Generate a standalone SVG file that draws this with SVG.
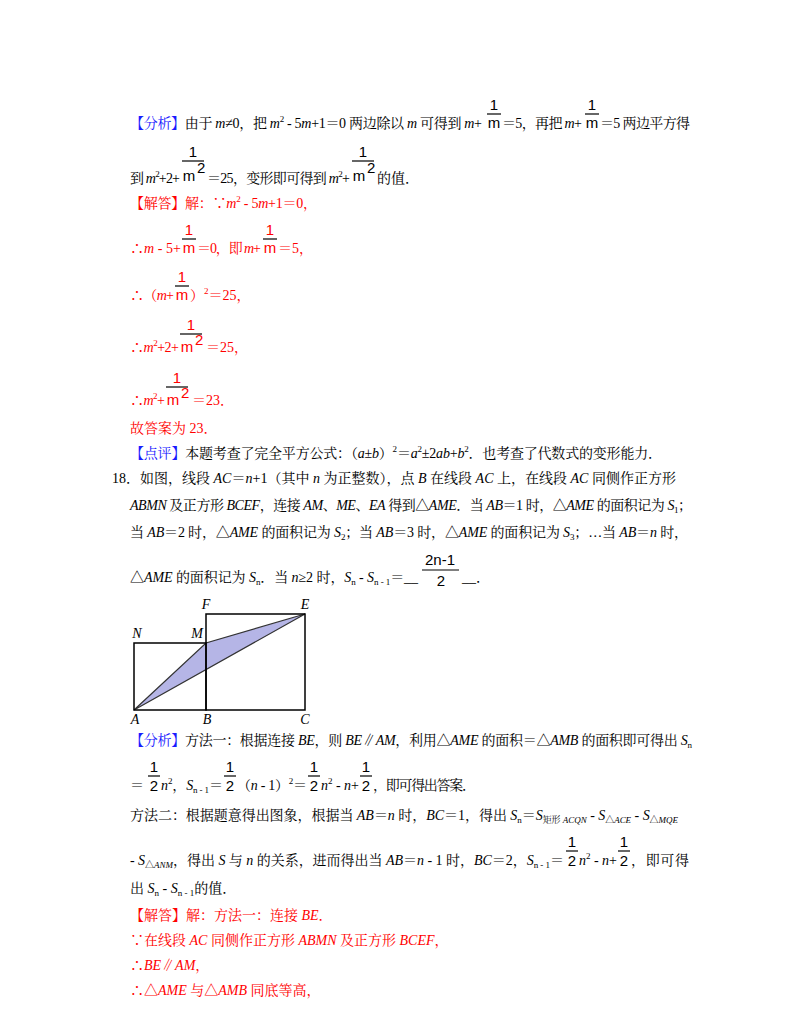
<svg xmlns="http://www.w3.org/2000/svg" width="800" height="1035" viewBox="0 0 800 1035">
<style>
text{font-family:"Liberation Serif","Noto Serif CJK SC","Noto Sans CJK SC",serif;font-size:14px;fill:#000}
.r{fill:#f00}.b{fill:#1a1aff}
.i{font-style:italic}
.f{font-family:"Liberation Sans","Noto Sans CJK SC",sans-serif;font-size:15px}
.fr{font-family:"Liberation Sans",sans-serif;font-size:15px;fill:#f00}
.s{font-size:9px}
.bar{stroke:#000;stroke-width:1.2}
.lbl{font-family:"Liberation Serif",serif;font-style:italic;font-size:14px}
</style>
<rect width="800" height="1035" fill="#fff"/>

<text x="130" y="128" textLength="352" lengthAdjust="spacing"><tspan class="b">【分析】</tspan>由于 <tspan class="i">m</tspan>≠0，把 <tspan class="i">m</tspan><tspan class="s" dy="-6">2</tspan><tspan dy="6"> - 5</tspan><tspan class="i">m</tspan>+1＝0 两边除以 <tspan class="i">m</tspan> 可得到 <tspan class="i">m</tspan>+</text>
<text class="f" x="494" y="110" text-anchor="middle">1</text>
<line class="bar" x1="487" y1="114" x2="501" y2="114"/>
<text class="f" x="494" y="128" text-anchor="middle">m</text>
<text x="502" y="128" textLength="80" lengthAdjust="spacing">＝5，再把 <tspan class="i">m</tspan>+</text>
<text class="f" x="592" y="110" text-anchor="middle">1</text>
<line class="bar" x1="585" y1="114" x2="599" y2="114"/>
<text class="f" x="592" y="128" text-anchor="middle">m</text>
<text x="600" y="128" textLength="90" lengthAdjust="spacing">＝5 两边平方得</text>

<text x="130" y="183" textLength="50" lengthAdjust="spacing">到 <tspan class="i">m</tspan><tspan class="s" dy="-6">2</tspan><tspan dy="6">+2+</tspan></text>
<text class="f" x="193" y="157" text-anchor="middle">1</text>
<line class="bar" x1="182" y1="161" x2="204" y2="161"/>
<text class="f" x="189" y="181" text-anchor="middle">m</text>
<text class="f" x="197" y="173" font-size="12">2</text>
<text x="207" y="183" textLength="143" lengthAdjust="spacing">＝25，变形即可得到 <tspan class="i">m</tspan><tspan class="s" dy="-6">2</tspan><tspan dy="6">+</tspan></text>
<text class="f" x="363" y="157" text-anchor="middle">1</text>
<line class="bar" x1="352" y1="161" x2="374" y2="161"/>
<text class="f" x="359" y="181" text-anchor="middle">m</text>
<text class="f" x="367" y="173" font-size="12">2</text>
<text x="377" y="183">的值．</text>

<text class="r" x="130" y="208" textLength="187" lengthAdjust="spacing">【解答】解：∵<tspan class="i">m</tspan><tspan class="s" dy="-6">2</tspan><tspan dy="6"> - 5</tspan><tspan class="i">m</tspan>+1＝0，</text>

<text class="r" x="130" y="253" textLength="51" lengthAdjust="spacing">∴<tspan class="i">m</tspan> - 5+</text>
<text class="fr" x="189" y="235" text-anchor="middle">1</text>
<line class="bar" x1="182" y1="239" x2="196" y2="239"/>
<text class="fr" x="189" y="253" text-anchor="middle">m</text>
<text class="r" x="197" y="253" textLength="64" lengthAdjust="spacing">＝0，即 <tspan class="i">m</tspan>+</text>
<text class="fr" x="270" y="235" text-anchor="middle">1</text>
<line class="bar" x1="263" y1="239" x2="277" y2="239"/>
<text class="fr" x="270" y="253" text-anchor="middle">m</text>
<text class="r" x="278" y="253">＝5，</text>

<text class="r" x="130" y="300" textLength="44" lengthAdjust="spacing">∴（<tspan class="i">m</tspan>+</text>
<text class="fr" x="182" y="282" text-anchor="middle">1</text>
<line class="bar" x1="175" y1="286" x2="189" y2="286"/>
<text class="fr" x="182" y="300" text-anchor="middle">m</text>
<text class="r" x="190" y="300">）<tspan class="s" dy="-6">2</tspan><tspan dy="6">＝25，</tspan></text>

<text class="r" x="130" y="352" textLength="49" lengthAdjust="spacing">∴<tspan class="i">m</tspan><tspan class="s" dy="-6">2</tspan><tspan dy="6">+2+</tspan></text>
<text class="fr" x="191" y="330" text-anchor="middle">1</text>
<line class="bar" x1="180" y1="334" x2="202" y2="334"/>
<text class="fr" x="187" y="352" text-anchor="middle">m</text>
<text class="fr" x="195" y="345" font-size="12">2</text>
<text class="r" x="206" y="352">＝25，</text>

<text class="r" x="130" y="405" textLength="35" lengthAdjust="spacing">∴<tspan class="i">m</tspan><tspan class="s" dy="-6">2</tspan><tspan dy="6">+</tspan></text>
<text class="fr" x="177" y="383" text-anchor="middle">1</text>
<line class="bar" x1="166" y1="387" x2="188" y2="387"/>
<text class="fr" x="173" y="405" text-anchor="middle">m</text>
<text class="fr" x="181" y="398" font-size="12">2</text>
<text class="r" x="192" y="405">＝23．</text>

<text class="r" x="130" y="433">故答案为 23．</text>

<text x="130" y="458" textLength="532" lengthAdjust="spacing"><tspan class="b">【点评】</tspan>本题考查了完全平方公式：（<tspan class="i">a</tspan>±<tspan class="i">b</tspan>）<tspan class="s" dy="-6">2</tspan><tspan dy="6">＝</tspan><tspan class="i">a</tspan><tspan class="s" dy="-6">2</tspan><tspan dy="6">±2</tspan><tspan class="i">ab</tspan>+<tspan class="i">b</tspan><tspan class="s" dy="-6">2</tspan><tspan dy="6">．也考查了代数式的变形能力．</tspan></text>

<text x="112" y="483" textLength="564" lengthAdjust="spacing">18．如图，线段 <tspan class="i">AC</tspan>＝<tspan class="i">n</tspan>+1（其中 <tspan class="i">n</tspan> 为正整数），点 <tspan class="i">B</tspan> 在线段 <tspan class="i">AC</tspan> 上，在线段 <tspan class="i">AC</tspan> 同侧作正方形</text>
<text x="130" y="510" textLength="562" lengthAdjust="spacing"><tspan class="i">ABMN</tspan> 及正方形 <tspan class="i">BCEF</tspan>，连接 <tspan class="i">AM</tspan>、<tspan class="i">ME</tspan>、<tspan class="i">EA</tspan> 得到△<tspan class="i">AME</tspan>．当 <tspan class="i">AB</tspan>＝1 时，△<tspan class="i">AME</tspan> 的面积记为 <tspan class="i">S</tspan><tspan class="s" dy="3">1</tspan><tspan dy="-3">；</tspan></text>
<text x="130" y="537" textLength="558" lengthAdjust="spacing">当 <tspan class="i">AB</tspan>＝2 时，△<tspan class="i">AME</tspan> 的面积记为 <tspan class="i">S</tspan><tspan class="s" dy="3">2</tspan><tspan dy="-3">；当 </tspan><tspan class="i">AB</tspan>＝3 时，△<tspan class="i">AME</tspan> 的面积记为 <tspan class="i">S</tspan><tspan class="s" dy="3">3</tspan><tspan dy="-3">；…当 </tspan><tspan class="i">AB</tspan>＝<tspan class="i">n</tspan> 时，</text>
<text x="130" y="582" textLength="288" lengthAdjust="spacing">△<tspan class="i">AME</tspan> 的面积记为 <tspan class="i">S</tspan><tspan class="s" dy="3">n</tspan><tspan dy="-3">．当 </tspan><tspan class="i">n</tspan>≥2 时，<tspan class="i">S</tspan><tspan class="s" dy="3">n</tspan><tspan dy="-3"> - </tspan><tspan class="i">S</tspan><tspan class="s" dy="3">n - 1</tspan><tspan dy="-3">＝__</tspan></text>
<text class="f" x="440" y="565" text-anchor="middle">2n-1</text>
<line class="bar" x1="422" y1="570" x2="459" y2="570"/>
<text class="f" x="441" y="586" text-anchor="middle">2</text>
<text x="462" y="582">__．</text>

<g id="figure">
<polygon points="134,710 206,643 305,614" fill="#b5b5e6" stroke="#333" stroke-width="1.2"/>
<rect x="134" y="643" width="72" height="67" fill="none" stroke="#000" stroke-width="1.5"/>
<rect x="206" y="614" width="99" height="96" fill="none" stroke="#000" stroke-width="1.5"/>
<text class="lbl" x="206" y="609" text-anchor="middle">F</text>
<text class="lbl" x="305" y="609" text-anchor="middle">E</text>
<text class="lbl" x="137" y="638" text-anchor="middle">N</text>
<text class="lbl" x="197" y="638" text-anchor="middle">M</text>
<text class="lbl" x="135" y="724" text-anchor="middle">A</text>
<text class="lbl" x="207" y="724" text-anchor="middle">B</text>
<text class="lbl" x="305" y="724" text-anchor="middle">C</text>
</g>

<text x="130" y="745" textLength="562" lengthAdjust="spacing"><tspan class="b">【分析】</tspan>方法一：根据连接 <tspan class="i">BE</tspan>，则 <tspan class="i">BE</tspan>∥<tspan class="i">AM</tspan>，利用△<tspan class="i">AME</tspan> 的面积＝△<tspan class="i">AMB</tspan> 的面积即可得出 <tspan class="i">S</tspan><tspan class="s" dy="3">n</tspan></text>

<text x="130" y="790">＝</text>
<text class="f" x="154" y="772" text-anchor="middle">1</text>
<line class="bar" x1="148" y1="776" x2="160" y2="776"/>
<text class="f" x="154" y="791" text-anchor="middle">2</text>
<text x="161" y="790" textLength="62" lengthAdjust="spacing"><tspan class="i">n</tspan><tspan class="s" dy="-6">2</tspan><tspan dy="6">，</tspan><tspan class="i">S</tspan><tspan class="s" dy="3">n - 1</tspan><tspan dy="-3">＝</tspan></text>
<text class="f" x="230" y="772" text-anchor="middle">1</text>
<line class="bar" x1="224" y1="776" x2="236" y2="776"/>
<text class="f" x="230" y="791" text-anchor="middle">2</text>
<text x="237" y="790" textLength="70" lengthAdjust="spacing">（<tspan class="i">n</tspan> - 1）<tspan class="s" dy="-6">2</tspan><tspan dy="6">＝</tspan></text>
<text class="f" x="314" y="772" text-anchor="middle">1</text>
<line class="bar" x1="308" y1="776" x2="320" y2="776"/>
<text class="f" x="314" y="791" text-anchor="middle">2</text>
<text x="321" y="790" textLength="38" lengthAdjust="spacing"><tspan class="i">n</tspan><tspan class="s" dy="-6">2</tspan><tspan dy="6"> - </tspan><tspan class="i">n</tspan>+</text>
<text class="f" x="366" y="772" text-anchor="middle">1</text>
<line class="bar" x1="360" y1="776" x2="372" y2="776"/>
<text class="f" x="366" y="791" text-anchor="middle">2</text>
<text x="373" y="790" textLength="103" lengthAdjust="spacing">，即可得出答案．</text>

<text x="130" y="820" textLength="548" lengthAdjust="spacing">方法二：根据题意得出图象，根据当 <tspan class="i">AB</tspan>＝<tspan class="i">n</tspan> 时，<tspan class="i">BC</tspan>＝1，得出 <tspan class="i">S</tspan><tspan class="s" dy="3">n</tspan><tspan dy="-3">＝</tspan><tspan class="i">S</tspan><tspan class="s" dy="3">矩形 <tspan class="i">ACQN</tspan></tspan><tspan dy="-3"> - </tspan><tspan class="i">S</tspan><tspan class="s" dy="3">△<tspan class="i">ACE</tspan></tspan><tspan dy="-3"> - </tspan><tspan class="i">S</tspan><tspan class="s" dy="3">△<tspan class="i">MQE</tspan></tspan></text>

<text x="130" y="865" textLength="434" lengthAdjust="spacing"> - <tspan class="i">S</tspan><tspan class="s" dy="3">△<tspan class="i">ANM</tspan></tspan><tspan dy="-3">，得出 </tspan><tspan class="i">S</tspan> 与 <tspan class="i">n</tspan> 的关系，进而得出当 <tspan class="i">AB</tspan>＝<tspan class="i">n</tspan> - 1 时，<tspan class="i">BC</tspan>＝2，<tspan class="i">S</tspan><tspan class="s" dy="3">n - 1</tspan><tspan dy="-3">＝</tspan></text>
<text class="f" x="572" y="847" text-anchor="middle">1</text>
<line class="bar" x1="566" y1="851" x2="578" y2="851"/>
<text class="f" x="572" y="866" text-anchor="middle">2</text>
<text x="579" y="865" textLength="38" lengthAdjust="spacing"><tspan class="i">n</tspan><tspan class="s" dy="-6">2</tspan><tspan dy="6"> - </tspan><tspan class="i">n</tspan>+</text>
<text class="f" x="624" y="847" text-anchor="middle">1</text>
<line class="bar" x1="618" y1="851" x2="630" y2="851"/>
<text class="f" x="624" y="866" text-anchor="middle">2</text>
<text x="631" y="865" textLength="58" lengthAdjust="spacing">，即可得</text>

<text x="130" y="893">出 <tspan class="i">S</tspan><tspan class="s" dy="3">n</tspan><tspan dy="-3"> - </tspan><tspan class="i">S</tspan><tspan class="s" dy="3">n - 1</tspan><tspan dy="-3">的值．</tspan></text>

<text class="r" x="130" y="920">【解答】解：方法一：连接 <tspan class="i">BE</tspan>．</text>
<text class="r" x="130" y="945">∵在线段 <tspan class="i">AC</tspan> 同侧作正方形 <tspan class="i">ABMN</tspan> 及正方形 <tspan class="i">BCEF</tspan>，</text>
<text class="r" x="130" y="970">∴<tspan class="i">BE</tspan>∥<tspan class="i">AM</tspan>，</text>
<text class="r" x="130" y="995">∴△<tspan class="i">AME</tspan> 与△<tspan class="i">AMB</tspan> 同底等高，</text>
</svg>
